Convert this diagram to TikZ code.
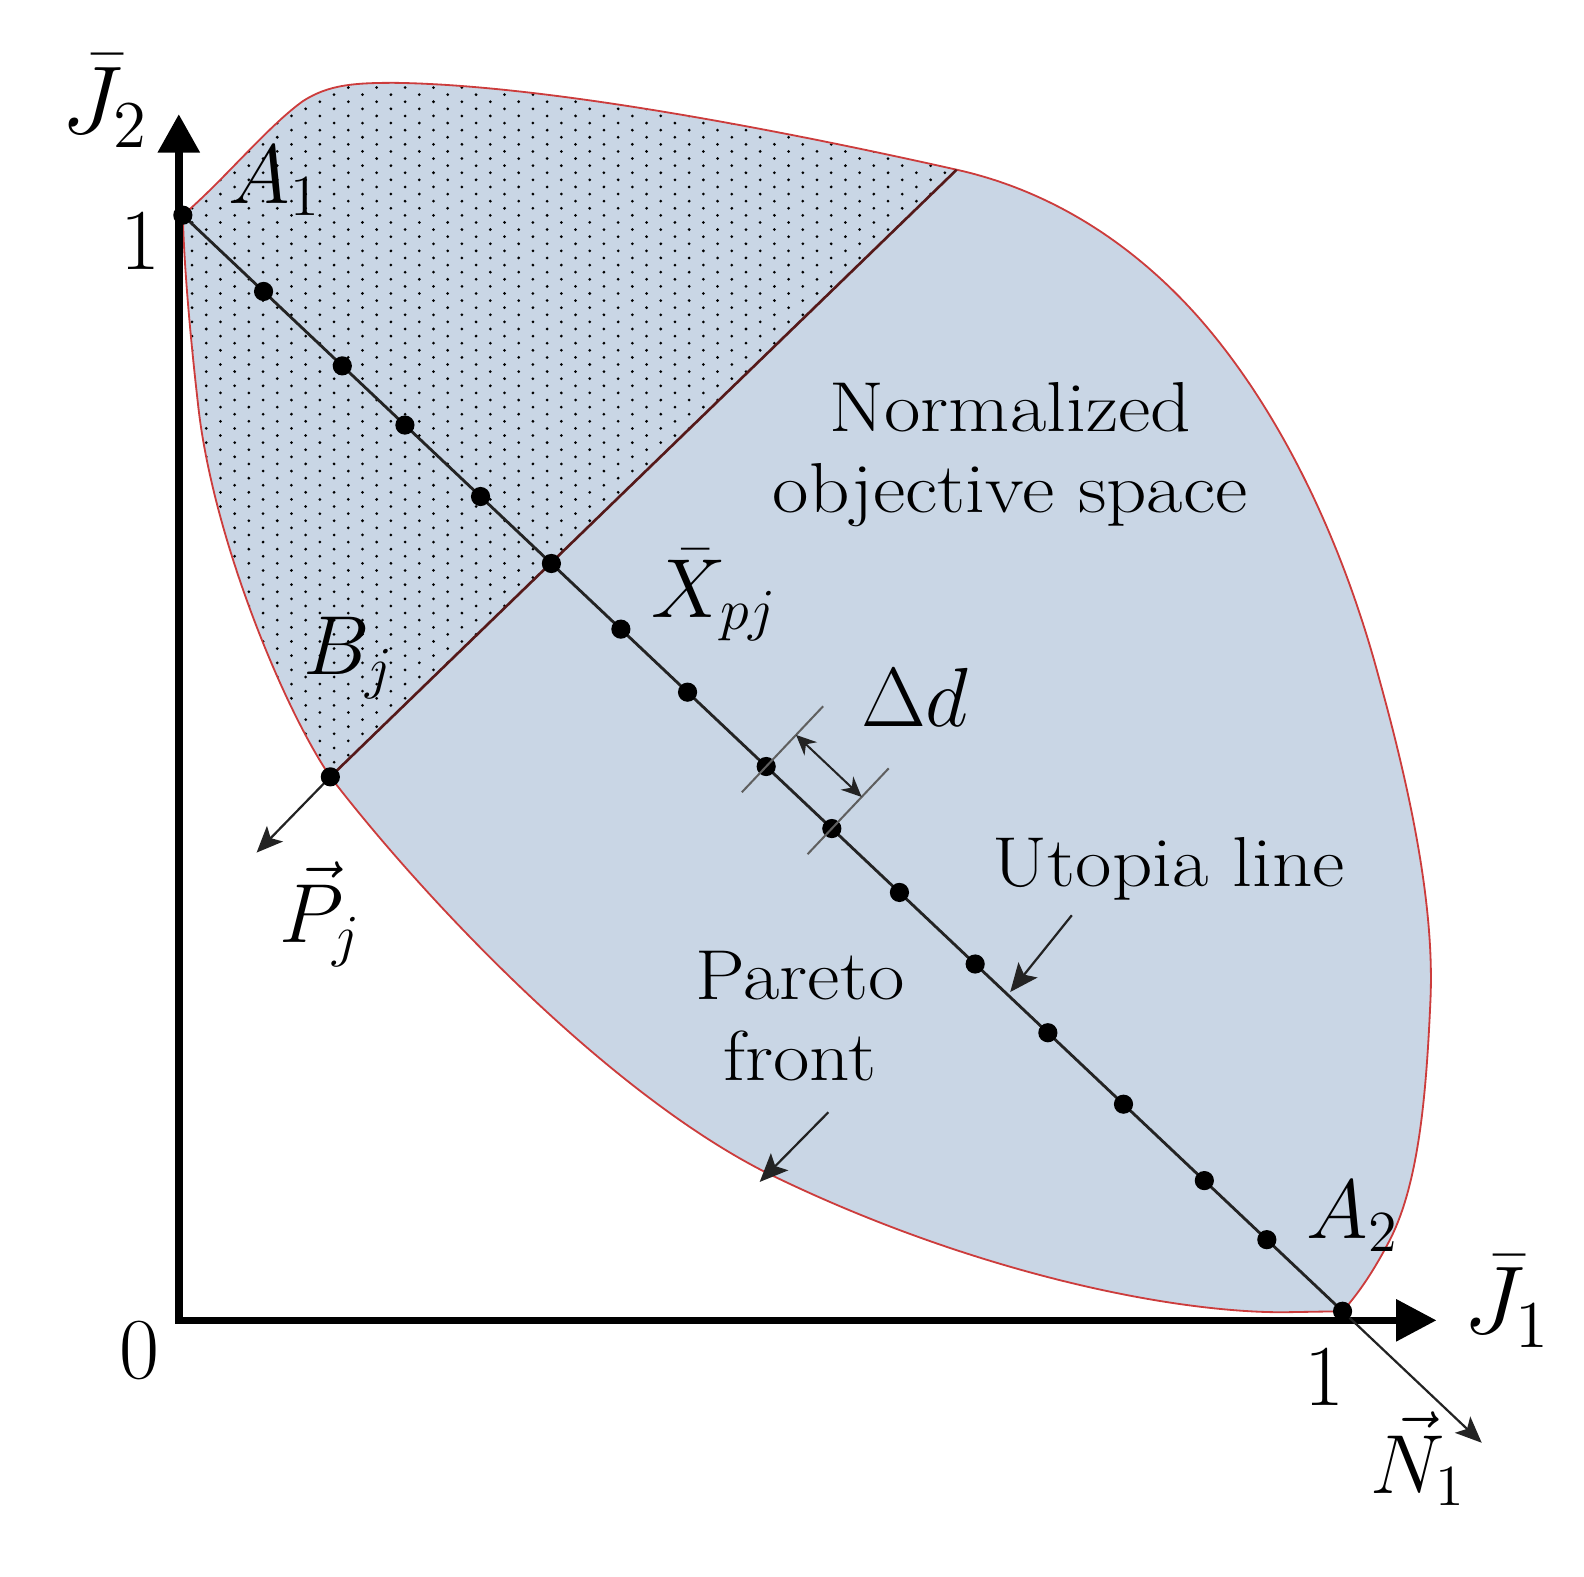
\documentclass[tikz,border=0pt]{standalone}
\usetikzlibrary{arrows.meta,calc}
\definecolor{regionfill}{RGB}{201,214,229}
\definecolor{edgered}{RGB}{204,60,60}
\definecolor{splitline}{RGB}{85,25,25}
\definecolor{lineg}{RGB}{35,35,35}
\definecolor{tickg}{RGB}{95,95,95}
\newcommand{\mylblmath}[2][2]{\scalebox{#1}{\fontsize{20}{24}\selectfont$#2$}}
\newcommand{\widetxt}[1]{\scalebox{1.12}[1]{#1}}
\begin{document}
\begin{tikzpicture}[x=0.5pt,y=-0.5pt,
  txt/.style={font=\fontsize{35}{40}\selectfont, inner sep=0pt},
  lbl/.style={inner sep=0pt, anchor=base west},
  num/.style={font=\fontsize{43}{50}\selectfont, inner sep=0pt, anchor=base},
  axisline/.style={line width=3.8pt, line join=miter},
  utopia/.style={line width=1.4pt, draw=lineg},
  ptr/.style={line width=1.1pt, draw=lineg, -{Stealth[length=14pt,width=12pt,inset=3pt]}},
  pdot/.style={circle, fill=black, inner sep=0pt, minimum size=9.5pt},
]
\useasboundingbox (0,0) rectangle (1568,1561);

\coordinate (O) at (177,1307);
\coordinate (Ytip) at (177,113);
\coordinate (Xtip) at (1422,1307);
\coordinate (A1) at (181,213);
\coordinate (A2) at (1329,1298);
\coordinate (Bj) at (327,769);
\coordinate (Jn) at (947,168);
\coordinate (Nend) at ($(A1)!1.12!(A2)$);
\coordinate (Pend) at (254,844);
\coordinate (PfS) at (820,1101);
\coordinate (PfE) at (752,1170);
\coordinate (UlS) at (1061,906);
\coordinate (UlE) at (1000,982);

\def\outline{(181,213) .. controls (220,180) and (265,125) .. (300,100)
  .. controls (325,84) and (350,82) .. (390,82)
  .. controls (550,84) and (800,135) .. (947,168)
  .. controls (1050,191) and (1130,250) .. (1188,316)
  .. controls (1270,410) and (1330,540) .. (1365,671)
  .. controls (1398,790) and (1420,900) .. (1416,990)
  .. controls (1412,1080) and (1405,1170) .. (1376,1227)
  .. controls (1360,1258) and (1345,1280) .. (1329,1298)
  -- (1270,1299) .. controls (1150,1299) and (950,1255) .. (757,1160)
  .. controls (600,1080) and (420,890) .. (327,769)
  .. controls (280,700) and (210,530) .. (196,400)
  .. controls (188,330) and (182,260) .. (181,213) -- cycle}

% region
\fill[regionfill] \outline;
\begin{scope}
  \clip \outline;
  \clip ($(Bj)!-0.5!(Jn)$) -- ($(Bj)!1.3!(Jn)$) -- (-20,-20) -- (-20,1100) -- cycle;
  \foreach \i in {0,...,55}{
    \foreach \j in {0,...,50}{
      \pgfmathsetmacro\xx{176.04+\i*14.06}
      \pgfmathsetmacro\yy{72.6+\j*14.06+mod(\i,2)*7.03}
      \fill[black] (\xx,\yy) circle[radius=0.75pt];
    }
  }
\end{scope}
\draw[edgered, line width=0.9pt] \outline;
\draw[splitline, line width=1.3pt] (Bj) -- (Jn);

% axes
\draw[axisline, {Triangle[length=19pt,width=20pt]}-{Triangle[length=20pt,width=20pt]}] (Ytip) -- (O) -- (Xtip);

% utopia line and normals
\draw[utopia] (A1) -- (A2);
\draw[line width=1.1pt, draw=lineg, -{Stealth[length=13pt,width=11pt,inset=3pt]}] (A2) -- (Nend);
\draw[line width=1.1pt, draw=lineg, -{Stealth[length=13pt,width=11pt,inset=3pt]}] (Bj) -- (Pend);

% points
\foreach \t [count=\k] in {0.0696,0.1375,0.1915,0.2567,0.3178,0.3777,0.4352,0.5030,0.5596,0.6179,0.6832,0.7459,0.8111,0.8808,0.9347}
  \node[pdot] (d\k) at ($(A1)!\t!(A2)$) {};
\node[pdot] (pA1) at (A1) {};
\node[pdot] (pA2) at (A2) {};
\node[pdot] (pBj) at (Bj) {};

% Delta d construction
\draw[tickg, line width=1pt] ($(d8.center)!17.5pt!-90:(A2)$) -- ($(d8.center)!41pt!90:(A2)$);
\draw[tickg, line width=1pt] ($(d9.center)!17.5pt!-90:(A2)$) -- ($(d9.center)!41pt!90:(A2)$);
\draw[lineg, line width=1pt, {Stealth[length=10pt,width=9pt]}-{Stealth[length=10pt,width=9pt]}] ($(d8.center)!21.5pt!90:(A2)$) -- ($(d9.center)!21.5pt!90:(A2)$);

% pointers
\draw[ptr] (PfS) -- (PfE);
\draw[ptr] (UlS) -- (UlE);

% labels
\node[lbl] (lA1) at (226,201) {\mylblmath{A_1}};
\node[lbl] (lA2) at (1293,1226) {\mylblmath{A_2}};
\node[lbl] (lJ2) at (60,132) {\mylblmath[2.3]{\bar{J}_2}};
\node[lbl] (lJ1) at (1448,1320) {\mylblmath[2.3]{\bar{J}_1}};
\node[lbl] (lN1) at (1356,1478) {\mylblmath{\vec{N}_1}};
\node[lbl] (lPj) at (276,933) {\mylblmath{\vec{P}_j}};
\node[lbl] (lBj) at (300,668) {\mylblmath{B_j}};
\node[lbl] (lX) at (645,611) {\mylblmath{\bar{X}_{pj}}};
\node[lbl] (lD) at (852,719) {\mylblmath{\Delta d}};
\node[num] (n1y) at (139,267) {1};
\node[num] (n0) at (138,1365) {0};
\node[num] (n1x) at (1311,1391) {1};
\node[txt, align=center] (tnorm) at (1000,450) {\widetxt{Normalized}\\\widetxt{objective space}};
\node[txt, anchor=base] (tuto) at (1157,878) {\widetxt{Utopia line}};
\node[txt, align=center] (tpar) at (792,1006) {\widetxt{Pareto}\\\widetxt{front}};
\end{tikzpicture}
\end{document}
